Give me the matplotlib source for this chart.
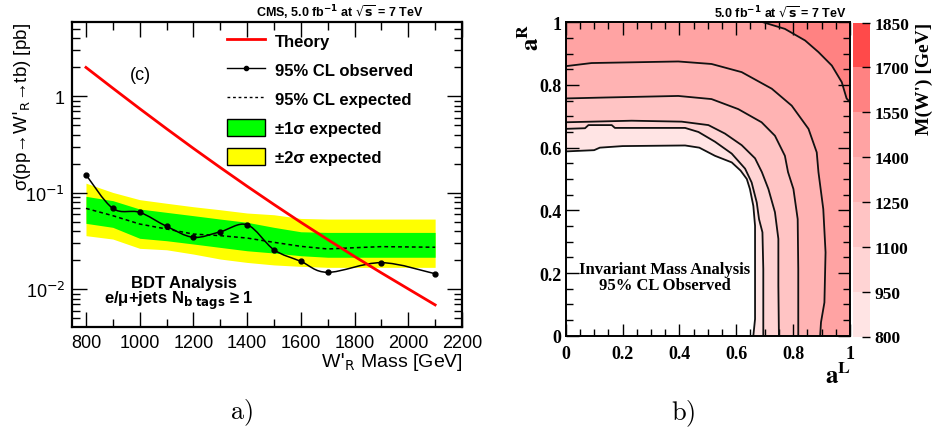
import numpy as np
import matplotlib
matplotlib.use('Agg')
import matplotlib.pyplot as plt
from matplotlib.path import Path
from matplotlib.patches import PathPatch, Patch
from matplotlib.lines import Line2D
from matplotlib.colors import ListedColormap, BoundaryNorm
from matplotlib.cm import ScalarMappable
from matplotlib.ticker import LogLocator, NullFormatter, MultipleLocator

SANS = ['Liberation Sans', 'DejaVu Sans']
SERIF = ['Liberation Serif', 'DejaVu Serif']

# ---- panel a) data (read off the picture) ----
mass = [800, 900, 1000, 1100, 1200, 1300, 1400, 1500, 1600, 1700, 1800, 1900, 2000, 2100]
theory = [1.995, 1.216, 0.746, 0.462, 0.289, 0.183, 0.117, 0.0757, 0.0495, 0.0328, 0.0219, 0.0148, 0.0101, 0.0069]
expected = [0.069, 0.058, 0.0475, 0.0422, 0.0374, 0.036, 0.034, 0.0307, 0.0279, 0.0262, 0.027, 0.0277, 0.0275, 0.0273]
one_sig_lo = [0.0483, 0.0439, 0.0338, 0.0319, 0.0295, 0.0272, 0.0251, 0.0238, 0.0223, 0.0215, 0.0215, 0.0215, 0.0215, 0.0215]
one_sig_hi = [0.092, 0.083, 0.068, 0.0628, 0.058, 0.0535, 0.0495, 0.0439, 0.0395, 0.0389, 0.0389, 0.0389, 0.0389, 0.0389]
two_sig_lo = [0.036, 0.0332, 0.0266, 0.0257, 0.0232, 0.0206, 0.019, 0.0179, 0.0173, 0.0169, 0.0169, 0.0169, 0.0169, 0.0169]
two_sig_hi = [0.126, 0.101, 0.085, 0.078, 0.0718, 0.0668, 0.0618, 0.0593, 0.0543, 0.0535, 0.0535, 0.0535, 0.0535, 0.0535]
obs_mass = [800, 900, 1000, 1100, 1200, 1300, 1400, 1500, 1600, 1700, 1900, 2100]
observed = [0.154, 0.069, 0.0628, 0.045, 0.0346, 0.0395, 0.0467, 0.0257, 0.0195, 0.015, 0.0189, 0.0145]

# ---- panel b) contour boundaries (aL, aR) ----
levels = [800, 950, 1100, 1250, 1400, 1550, 1700, 1850]
level_colors = ['#ffe4e4', '#ffd4d4', '#ffc4c4', '#ffb3b3', '#ffa3a3', '#ff8282', '#ff4a4a']

c800_aL = [0, 0.10, 0.12, 0.20, 0.42, 0.47, 0.525, 0.584, 0.615, 0.637, 0.648, 0.660, 0.666, 0.666, 0.666, 0.660]
c800_aR = [0.588, 0.592, 0.600, 0.605, 0.607, 0.600, 0.574, 0.553, 0.527, 0.500, 0.468, 0.414, 0.351, 0.213, 0.053, 0.0]
c950_aL = [0, 0.068, 0.080, 0.162, 0.173, 0.420, 0.467, 0.525, 0.584, 0.631, 0.654, 0.672, 0.680, 0.692, 0.695, 0.695]
c950_aR = [0.660, 0.662, 0.672, 0.672, 0.663, 0.663, 0.650, 0.619, 0.581, 0.533, 0.489, 0.425, 0.372, 0.330, 0.213, 0.0]
c1100_aL = [0, 0.232, 0.408, 0.502, 0.560, 0.619, 0.666, 0.690, 0.713, 0.736, 0.748, 0.748, 0.750]
c1100_aR = [0.681, 0.686, 0.683, 0.672, 0.645, 0.608, 0.566, 0.522, 0.468, 0.394, 0.309, 0.160, 0.0]
c1250_aL = [0, 0.138, 0.396, 0.513, 0.607, 0.689, 0.736, 0.771, 0.782, 0.801, 0.816, 0.818, 0.818]
c1250_aR = [0.757, 0.760, 0.765, 0.755, 0.723, 0.681, 0.638, 0.574, 0.522, 0.468, 0.372, 0.213, 0.0]
c1400_aL = [0, 0.091, 0.396, 0.513, 0.619, 0.725, 0.795, 0.854, 0.883, 0.889, 0.906, 0.914, 0.910, 0.898, 0.895]
c1400_aR = [0.860, 0.870, 0.875, 0.867, 0.841, 0.788, 0.734, 0.660, 0.585, 0.522, 0.404, 0.266, 0.106, 0.043, 0.0]
c1550_aL = [0.695, 0.771, 0.842, 0.889, 0.936, 0.971, 0.988, 1.0]
c1550_aR = [1.0, 0.979, 0.942, 0.905, 0.862, 0.809, 0.757, 0.745]


def smooth_path(x, y):
    # ROOT-like smooth curve through the points (bezier in x / log y)
    lx = np.asarray(x, float)
    ly = np.log10(y)
    n = len(lx)
    verts = [(lx[0], ly[0])]
    codes = [Path.MOVETO]
    for i in range(n - 1):
        p0 = np.array([lx[max(i - 1, 0)], ly[max(i - 1, 0)]])
        p1 = np.array([lx[i], ly[i]])
        p2 = np.array([lx[i + 1], ly[i + 1]])
        p3 = np.array([lx[min(i + 2, n - 1)], ly[min(i + 2, n - 1)]])
        verts += [tuple(p1 + (p2 - p0) / 6), tuple(p2 - (p3 - p1) / 6), tuple(p2)]
        codes += [Path.CURVE4] * 3
    verts = [(vx, 10 ** vy) for vx, vy in verts]
    return Path(verts, codes)


fig = plt.figure(figsize=(9.34, 4.35), dpi=100)

# ================= panel a) =================
ax1 = fig.add_axes([72 / 934, 1 - 328 / 435, 390 / 934, 305 / 435])
ax1.set_yscale('log')
ax1.set_xlim(748, 2200)
ax1.set_ylim(0.00407, 5.9)

ax1.fill_between(mass, two_sig_lo, two_sig_hi, color='#ffff00', lw=0)
ax1.fill_between(mass, one_sig_lo, one_sig_hi, color='#00ff00', lw=0)
ax1.plot(mass, expected, color='k', ls=(0, (2.5, 2)), lw=1.1)
ax1.add_patch(PathPatch(smooth_path(obs_mass, observed), fill=False, ec='k', lw=1.1))
ax1.plot(obs_mass, observed, 'o', color='k', ms=3.5)
ax1.plot(mass, theory, color='#ff0000', lw=2)

ax1.set_xticks([800, 1000, 1200, 1400, 1600, 1800, 2000, 2200])
ax1.xaxis.set_minor_locator(MultipleLocator(100))
ax1.set_yticks([0.01, 0.1, 1], labels=['10$^{-2}$', '10$^{-1}$', '1'])
ax1.yaxis.set_minor_locator(LogLocator(base=10, subs=np.arange(2, 10)))
ax1.yaxis.set_minor_formatter(NullFormatter())
ax1.tick_params(which='both', direction='in', top=True, right=True, labelsize=13, pad=5)
ax1.tick_params(which='major', length=11, width=1)
ax1.tick_params(which='minor', length=6, width=1)
for lab in ax1.get_xticklabels() + ax1.get_yticklabels():
    lab.set_family(SANS)
for s in ax1.spines.values():
    s.set_linewidth(1.6)

handles = [Line2D([], [], color='#ff0000', lw=2),
           Line2D([], [], color='k', lw=1, marker='o', ms=3),
           Line2D([], [], color='k', lw=1, ls=(0, (2, 2))),
           Patch(facecolor='#00ff00', edgecolor='k'),
           Patch(facecolor='#ffff00', edgecolor='k')]
labels = ['Theory', '95% CL observed', '95% CL expected', '±1σ expected', '±2σ expected']
ax1.legend(handles, labels, loc='upper left', bbox_to_anchor=(0.397, 0.968), frameon=False,
           borderpad=0, borderaxespad=0, handlelength=2.3, handleheight=1.25,
           handletextpad=0.6, labelspacing=0.68,
           prop={'family': SANS, 'weight': 'bold', 'size': 12})

fig.text(140 / 934, 1 - 75 / 435, '(c)', family=SANS, fontsize=13, ha='center', va='center')
fig.text(184 / 934, 1 - 288 / 435, 'BDT Analysis', family=SANS, fontsize=12,
         weight='bold', ha='center', va='baseline')
fig.text(179 / 934, 1 - 304 / 435, r'e/μ+jets N$_{\bf b\ tags}$ ≥ 1', family=SANS, fontsize=12,
         weight='bold', ha='center', va='baseline')
fig.text(423 / 934, 1 - 13 / 435, r'CMS, 5.0 fb$^{\mathbf{-1}}$ at $\sqrt{\mathbf{s}}$ = 7 TeV',
         family=SANS, fontsize=9, weight='bold', ha='right', va='center')
fig.text(463 / 934, 1 - 367 / 435, r"W$'_{\rm R}$ Mass [GeV]", family=SANS, fontsize=14,
         ha='right', va='baseline')
fig.text(22 / 934, 1 - 23 / 435, r"σ(pp→W$'_{\rm R}$→tb) [pb]", family=SANS, fontsize=13.5,
         rotation=90, ha='center', va='top')
fig.text(241 / 934, 1 - 413 / 435, r'$\mathrm{a)}$', math_fontfamily='cm', fontsize=19,
         ha='center', va='center')

# ================= panel b) =================
ax2 = fig.add_axes([565.7 / 934, 1 - 336.7 / 435, 284.3 / 934, 313.4 / 435])
ax2.set_xlim(0, 1)
ax2.set_ylim(0, 1)

curves = [(c800_aL, c800_aR), (c950_aL, c950_aR), (c1100_aL, c1100_aR),
          (c1250_aL, c1250_aR), (c1400_aL, c1400_aR)]
for (cl, cr), col in zip(curves, level_colors):
    poly = list(zip(cl, cr)) + [(1, 0), (1, 1), (0, 1)]
    ax2.fill([p[0] for p in poly], [p[1] for p in poly], color=col, lw=0)
poly = list(zip(c1550_aL, c1550_aR)) + [(1, 1)]
ax2.fill([p[0] for p in poly], [p[1] for p in poly], color=level_colors[5], lw=0)
for cl, cr in curves + [(c1550_aL, c1550_aR)]:
    ax2.plot(cl, cr, color='#111111', lw=1.3)

ax2.set_xticks([0, 0.2, 0.4, 0.6, 0.8, 1.0], labels=['0', '0.2', '0.4', '0.6', '0.8', '1'])
ax2.set_yticks([0, 0.2, 0.4, 0.6, 0.8, 1.0], labels=['0', '0.2', '0.4', '0.6', '0.8', '1'])
ax2.xaxis.set_minor_locator(MultipleLocator(0.05))
ax2.yaxis.set_minor_locator(MultipleLocator(0.05))
ax2.tick_params(which='both', direction='in', top=True, right=True, labelsize=13)
ax2.tick_params(axis='x', pad=7)
ax2.tick_params(axis='y', pad=3)
ax2.tick_params(which='major', length=9, width=1)
ax2.tick_params(which='minor', length=5, width=1)
for lab in ax2.get_xticklabels() + ax2.get_yticklabels():
    lab.set_family(SERIF)
    lab.set_weight('bold')
for s in ax2.spines.values():
    s.set_linewidth(1.4)

fig.text(665 / 934, 1 - 278 / 435, 'Invariant Mass Analysis\n95% CL Observed', family=SERIF,
         fontsize=12, weight='bold', ha='center', va='center', linespacing=1.0)
fig.text(847 / 934, 1 - 13 / 435, r'5.0 fb$^{\mathbf{-1}}$ at $\sqrt{\mathbf{s}}$ = 7 TeV', family=SANS,
         fontsize=9, weight='bold', ha='right', va='center')
fig.text(531 / 934, 1 - 37 / 435, r'$\mathbf{a^R}$', math_fontfamily='stix', fontsize=18,
         rotation=90, ha='center', va='center')
fig.text(838 / 934, 1 - 376 / 435, r'$\mathbf{a^L}$', math_fontfamily='stix', fontsize=18,
         ha='center', va='center')
fig.text(683 / 934, 1 - 414 / 435, r'$\mathrm{b)}$', math_fontfamily='cm', fontsize=19,
         ha='center', va='center')

# colour bar
cax = fig.add_axes([852.5 / 934, 1 - 337.5 / 435, 17.5 / 934, 314 / 435])
cmap = ListedColormap(level_colors)
norm = BoundaryNorm(levels, cmap.N)
cb = fig.colorbar(ScalarMappable(norm=norm, cmap=cmap), cax=cax, ticks=levels)
cb.outline.set_linewidth(0)
cax.tick_params(direction='in', length=6, width=1, labelsize=12.5, pad=3)
for lab in cax.get_yticklabels():
    lab.set_family(SERIF)
    lab.set_weight('bold')
fig.text(924 / 934, 1 - 23 / 435, "M(W') [GeV]", family=SERIF, fontsize=14, weight='bold',
         rotation=90, ha='center', va='top')

fig.savefig('out.png', dpi=100)
